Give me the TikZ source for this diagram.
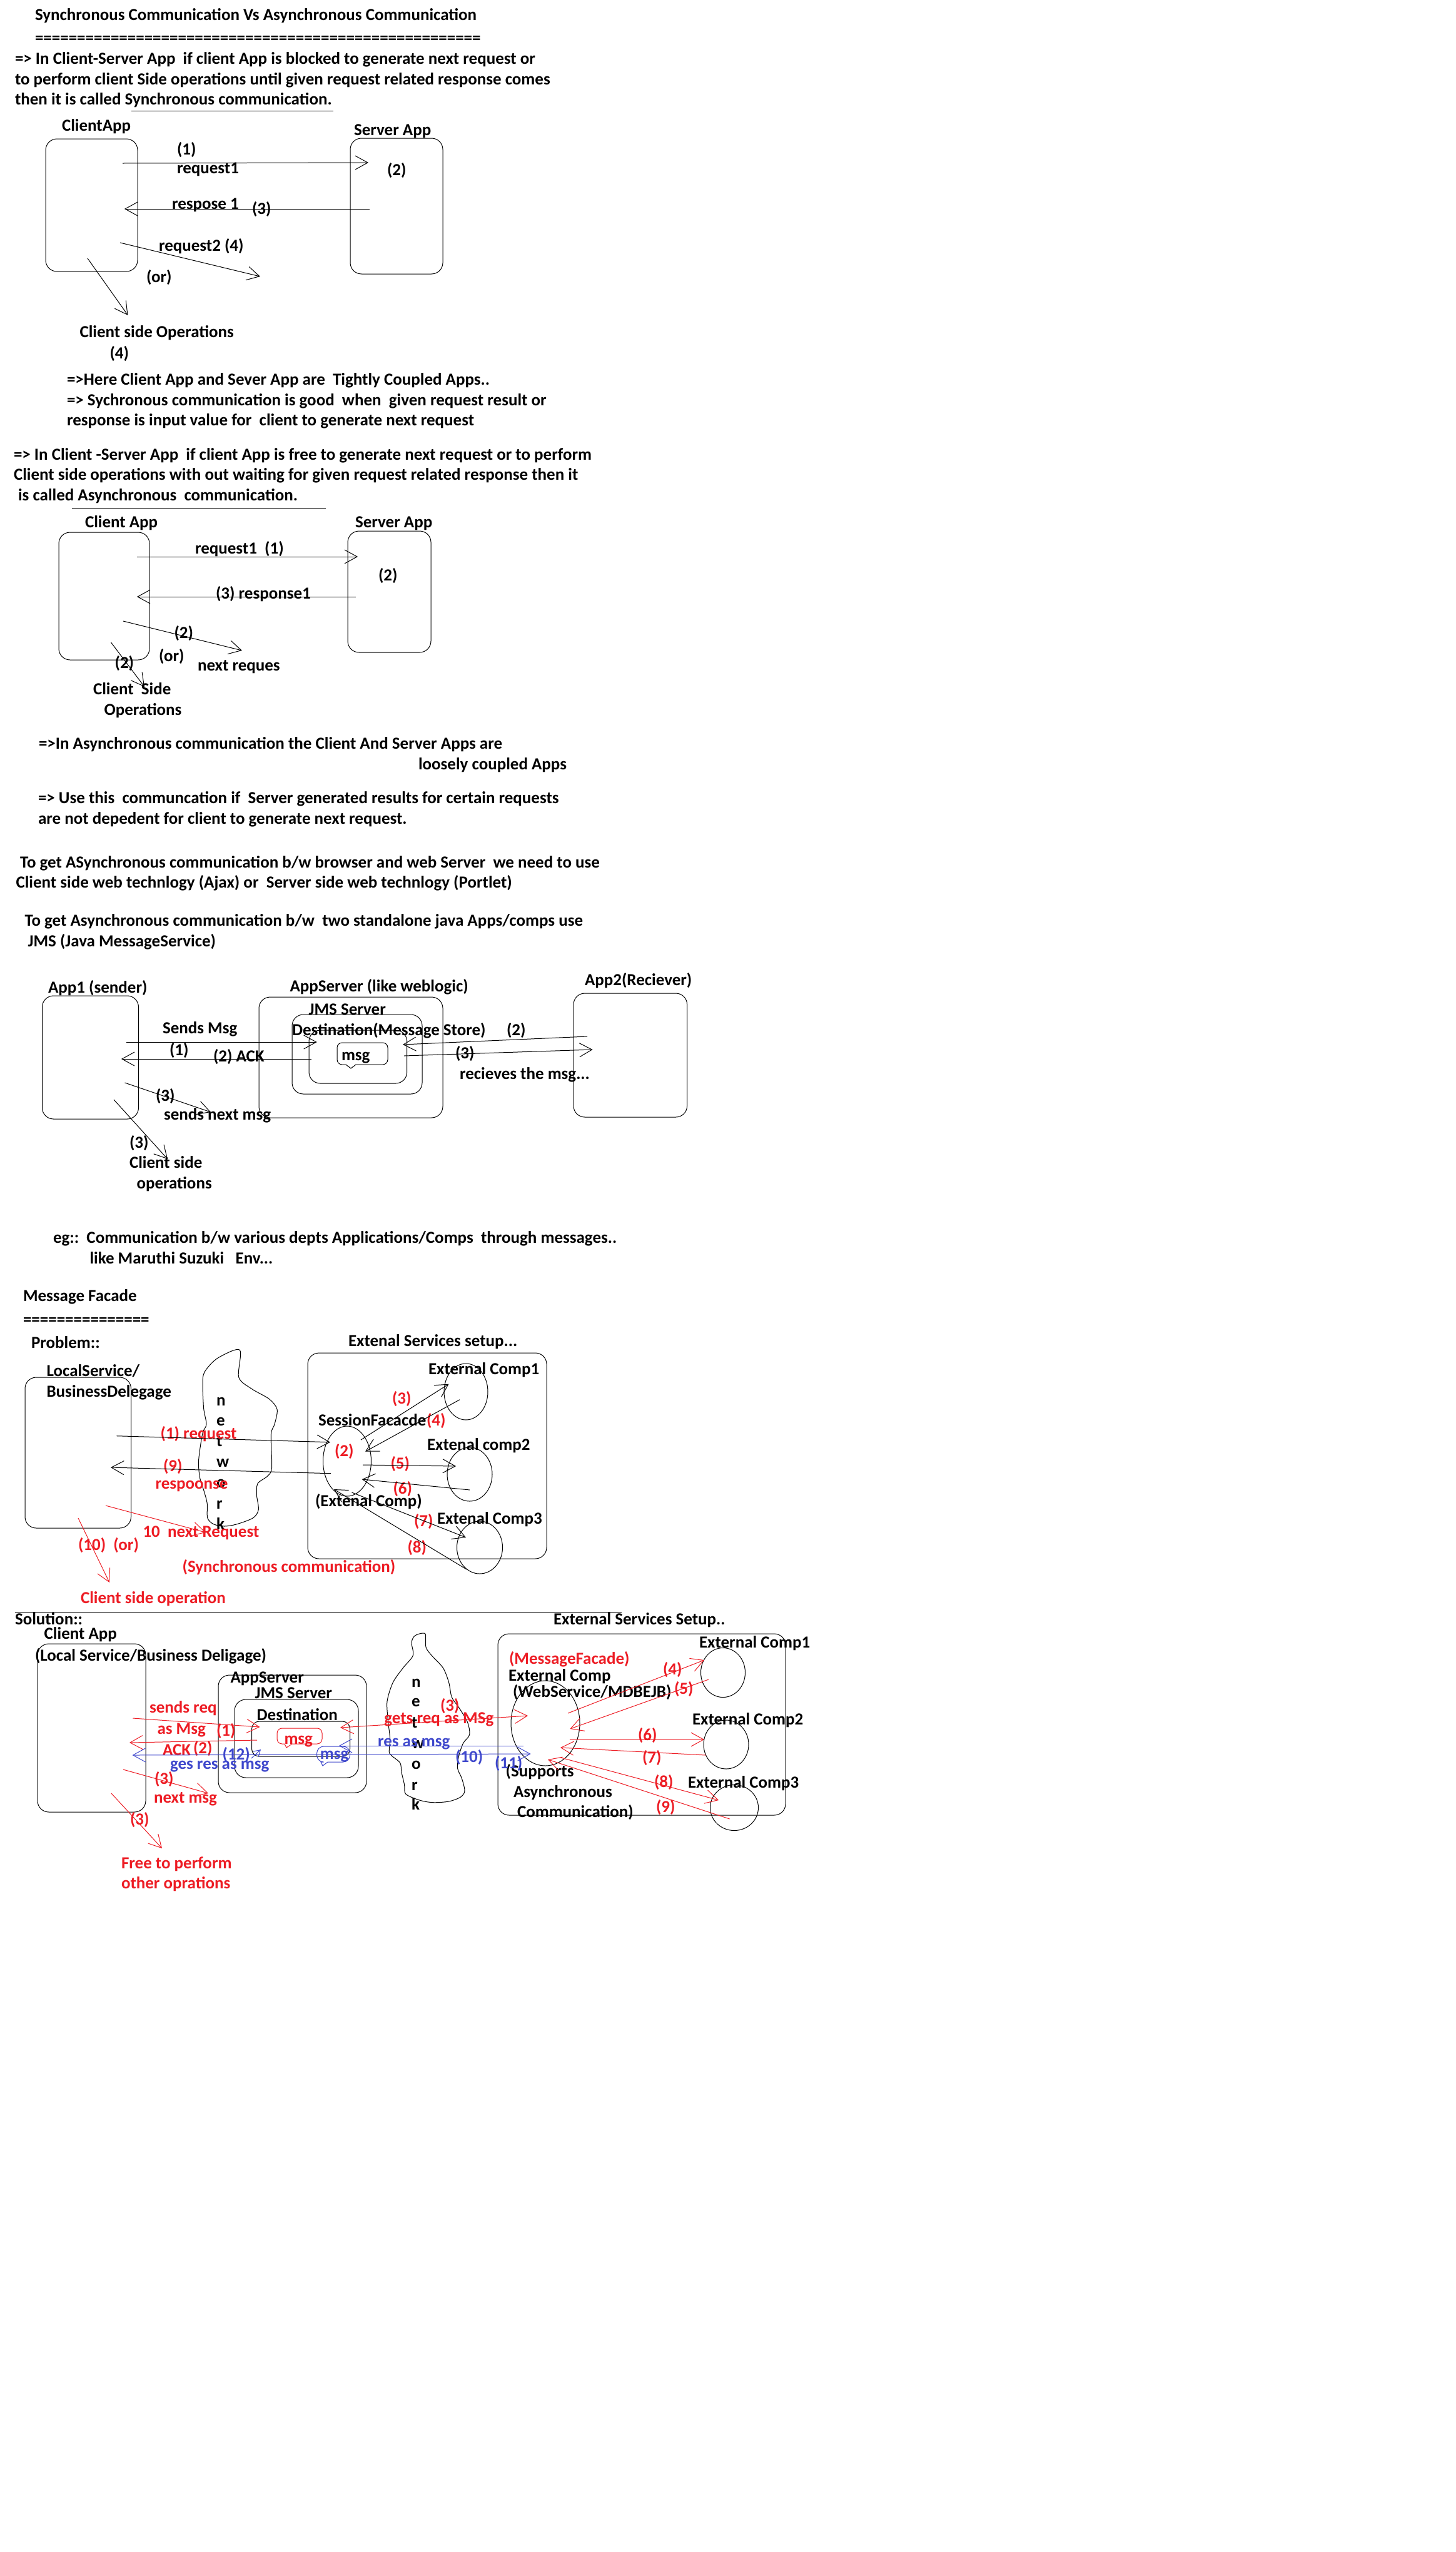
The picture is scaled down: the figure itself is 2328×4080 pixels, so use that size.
\documentclass[tikz,border=0pt]{standalone}
\usepackage{fontspec}
\setmainfont{Carlito}
\usetikzlibrary{arrows.meta,shapes.geometric,fit}
\definecolor{pred}{RGB}{237,28,36}
\definecolor{pblue}{RGB}{63,72,204}
\begin{document}
\begin{tikzpicture}[x=1pt,y=-1pt,
  txt/.style={anchor=base west, inner sep=0pt, outer sep=0pt, font=\fontsize{27}{33}\selectfont\bfseries},
  rtxt/.style={txt, text=pred},
  btxt/.style={txt, text=pblue},
  box/.style={draw, rounded corners=18pt, inner sep=0pt, line width=1pt},
  comp/.style={draw, ellipse, inner sep=0pt, line width=1pt},
  arr/.style={line width=1pt, -{Straight Barb[length=20pt,width=22pt,line width=1pt]}},
  darr/.style={line width=1pt, {Straight Barb[length=20pt,width=22pt,line width=1pt]}-{Straight Barb[length=20pt,width=22pt,line width=1pt]}},
  rarr/.style={arr, draw=pred},
  barr/.style={arr, draw=pblue},
  ln/.style={line width=1pt}
]
\fill[white] (0,0) rectangle (2328,4080);
\useasboundingbox (0,0) rectangle (2328,4080);

% ---------------- Section 1 ----------------
\node[txt] (title) at (56,32) {Synchronous Communication Vs Asynchronous Communication};
\node[txt] (eq1) at (56,69) {=====================================================};
\node[txt] (s1a) at (24,102) {=> In Client-Server App\ \ if client App is blocked to generate next request or};
\node[txt] (s1b) at (24,135) {to perform client Side operations until given request related response comes};
\node[txt] (s1c) at (24,167) {then it is called Synchronous communication.};
\coordinate (u1a) at (210,177); \coordinate (u1b) at (533,177);
\draw[ln] (u1a) -- (u1b);

% ---------------- Section 2 (sync diagram) ----------------
\node[txt] (ca1lbl) at (99,209) {ClientApp};
\node[box, fit={(73,222)(220,434)}] (ca1) {};
\node[txt] (sa1lbl) at (566,216) {Server App};
\node[box, fit={(560,221)(708,438)}] (sa1) {};
\node[txt] (d1n1) at (283,247) {(1)};
\node[txt] (d1req) at (283,277) {request1};
\node[txt] (d1n2) at (619,280) {(2)};
\node[txt] (d1res) at (275,334) {respose 1};
\node[txt] (d1n3) at (403,342) {(3)};
\node[txt] (d1req2) at (254,401) {request2 (4)};
\node[txt] (d1or) at (234,451) {(or)};
\node[txt] (d1cso) at (127.5,539) {Client side Operations};
\node[txt] (d1n4) at (175.5,573) {(4)};
\coordinate (a1s) at (196,261); \coordinate (a1e) at (589,260);
\coordinate (a2s) at (591,334); \coordinate (a2e) at (199,334);
\coordinate (a3s) at (192,388); \coordinate (a3e) at (416,442);
\coordinate (a4s) at (140,413); \coordinate (a4e) at (204.5,504);
\draw[arr] (a1s) -- (a1e);
\draw[arr] (a2s) -- (a2e);
\draw[arr] (a3s) -- (a3e);
\draw[arr] (a4s) -- (a4e);

% ---------------- Section 3 ----------------
\node[txt] (s3a) at (107,615) {=>Here Client App and Sever App are\ \ Tightly Coupled Apps..};
\node[txt] (s3b) at (107,648) {=> Sychronous communication is good\ \ when\ \ given request result or};
\node[txt] (s3c) at (107,680) {response is input value for\ \ client to generate next request};
\node[txt] (s3d) at (22,735) {=> In Client -Server App\ \ if client App is free to generate next request or to perform};
\node[txt] (s3e) at (22,767) {Client side operations with out waiting for given request related response then it};
\node[txt] (s3f) at (29,800) {is called Asynchronous\ \ communication.};
\coordinate (u2a) at (115,812); \coordinate (u2b) at (521,812);
\draw[ln] (u2a) -- (u2b);

% ---------------- Section 4 (async diagram) ----------------
\node[txt] (ca2lbl) at (136,843) {Client App};
\node[box, fit={(94,851)(239,1055)}] (ca2) {};
\node[txt] (sa2lbl) at (568,843) {Server App};
\node[box, fit={(556,849)(689,1043)}] (sa2) {};
\node[txt] (d2req) at (312,885) {request1\ \ (1)};
\node[txt] (d2n2) at (605,928) {(2)};
\node[txt] (d2res) at (345,957) {(3) response1};
\node[txt] (d2n2b) at (278.5,1020) {(2)};
\node[txt] (d2or) at (254,1057) {(or)};
\node[txt] (d2next) at (316,1072) {next reques};
\node[txt] (d2n2c) at (183.6,1068) {(2)};
\node[txt] (d2cs) at (149,1110) {Client\ \ Side};
\node[txt] (d2op) at (166.5,1143) {Operations};
\coordinate (b1s) at (218.5,890); \coordinate (b1e) at (572,890);
\coordinate (b2s) at (569,954); \coordinate (b2e) at (219,954);
\coordinate (b3s) at (197,993); \coordinate (b3e) at (387,1040);
\coordinate (b4s) at (177.5,1027); \coordinate (b4e) at (231,1098);
\draw[arr] (b1s) -- (b1e);
\draw[arr] (b2s) -- (b2e);
\draw[arr] (b3s) -- (b3e);
\draw[arr] (b4s) -- (b4e);

% ---------------- Section 5 ----------------
\node[txt] (s5a) at (62,1197) {=>In Asynchronous communication the Client And Server Apps are};
\node[txt] (s5b) at (669,1230) {loosely coupled Apps};
\node[txt] (s5c) at (61,1284) {=> Use this\ \ communcation if\ \ Server generated results for certain requests};
\node[txt] (s5d) at (61,1317) {are not depedent for client to generate next request.};
\node[txt] (s5e) at (32,1387) {To get ASynchronous communication b/w browser and web Server\ \ we need to use};
\node[txt] (s5f) at (25.5,1419) {Client side web technlogy (Ajax) or\ \ Server side web technlogy (Portlet)};
\node[txt] (s5g) at (39.5,1480) {To get Asynchronous communication b/w\ \ two standalone java Apps/comps use};
\node[txt] (s5h) at (44.6,1513) {JMS (Java MessageService)};

% ---------------- Section 6 (JMS) ----------------
\node[txt] (app1lbl) at (77,1587) {App1 (sender)};
\node[box, fit={(67.5,1592)(221.5,1789)}] (app1) {};
\node[txt] (aslbl) at (463.5,1585) {AppServer (like weblogic)};
\node[box, fit={(414,1594)(708,1787)}] (as1) {};
\node[txt] (jmslbl) at (493.6,1622) {JMS Server};
\node[box, fit={(467,1622)(675,1749)}] (jms1) {};
\node[box, fit={(494,1647)(650.7,1732)}] (dest1) {};
\node[txt] (destlbl) at (467,1655) {Destination(Message Store)};
\draw[ln] (569,1702) [rounded corners=8pt] -- (620,1702) -- (620,1667) -- (539,1667) -- (539,1702) [sharp corners] -- (553,1702) -- (561,1708) -- cycle;
\node[txt] (msg1) at (546,1695) {msg};
\node[txt] (j1send) at (260,1652) {Sends Msg};
\node[txt] (j1n1) at (271,1687) {(1)};
\node[txt] (j1ack) at (341,1697) {(2) ACK};
\node[txt] (j1n2) at (810,1655) {(2)};
\node[txt] (j1n3) at (728,1692) {(3)};
\node[txt] (j1rec) at (735,1725) {recieves the msg...};
\node[txt] (app2lbl) at (935,1575) {App2(Reciever)};
\node[box, fit={(917,1588)(1098.6,1786)}] (app2) {};
\node[txt] (j1n3b) at (249,1760) {(3)};
\node[txt] (j1next) at (262,1790) {sends next msg};
\node[txt] (j1n3c) at (207,1835) {(3)};
\node[txt] (j1cs) at (207,1867) {Client side};
\node[txt] (j1op) at (218.5,1900) {operations};
\coordinate (c1s) at (201.7,1666); \coordinate (c1e) at (506.7,1666);
\coordinate (c2s) at (498,1693); \coordinate (c2e) at (194,1693);
\coordinate (c3s) at (939,1657); \coordinate (c3e) at (644,1670);
\coordinate (c4s) at (646,1688); \coordinate (c4e) at (947.6,1678);
\coordinate (c5s) at (199.5,1731); \coordinate (c5e) at (337,1778);
\coordinate (c6s) at (182,1758); \coordinate (c6e) at (268,1853);
\draw[arr] (c1s) -- (c1e);
\draw[arr] (c2s) -- (c2e);
\draw[arr] (c3s) -- (c3e);
\draw[arr] (c4s) -- (c4e);
\draw[arr] (c5s) -- (c5e);
\draw[arr] (c6s) -- (c6e);

% ---------------- Section 7 ----------------
\node[txt] (s7a) at (85,1987) {eg::\ \ Communication b/w various depts Applications/Comps\ \ through messages..};
\node[txt] (s7b) at (143.5,2020) {like Maruthi Suzuki\ \ \ Env...};
\node[txt] (mf) at (37,2080) {Message Facade};
\node[txt] (eq2) at (37,2118) {===============};
\node[txt] (prob) at (50,2155) {Problem::};
\node[txt] (ext1lbl) at (557,2152) {Extenal Services setup...};

% ---------------- Section 8 (problem) ----------------
\node[txt] (ls1) at (74.6,2200) {LocalService/};
\node[txt] (ls2) at (74.6,2233) {BusinessDelegage};
\node[box, fit={(40,2202)(209.5,2443)}] (lsbox) {};
\draw[ln] plot[smooth cycle, tension=0.5] coordinates {(383.4,2158.3) (381.7,2201.7) (401.8,2220) (430.5,2236.7) (443.1,2253.3) (439.1,2276.7) (433.4,2293.3) (434.5,2346.7) (427.6,2360) (412.1,2371.7) (410.4,2390) (413.3,2413.3) (404.7,2426.7) (378.8,2436.7) (358.8,2440) (341.5,2436.7) (331.8,2426.7) (331.2,2403.3) (326,2383.3) (319.7,2363.3) (317.4,2340) (319.7,2316.7) (324.3,2290) (330,2276.7) (325.5,2250) (324.3,2203.3) (331.8,2186.7) (350.1,2170)};
\node[txt] (nw1n) at (346,2247) {n};
\node[txt] (nw1e) at (346,2279) {e};
\node[txt] (nw1t) at (346,2312) {t};
\node[txt] (nw1w) at (346,2345) {w};
\node[txt] (nw1o) at (346,2378) {o};
\node[txt] (nw1r) at (346,2412) {r};
\node[txt] (nw1k) at (346,2445) {k};
\node[box, fit={(492,2163)(874,2492)}] (ext1) {};
\node[txt] (pc1lbl) at (685,2197) {External Comp1};
\node[comp, minimum width=70pt, minimum height=90pt] (pc1) at (745,2225) {};
\node[txt] (sflbl) at (509,2279) {SessionFacacde};
\node[comp, minimum width=77pt, minimum height=112pt] (sf) at (555,2336) {};
\node[txt] (pec) at (504,2408) {(Extenal Comp)};
\node[txt] (pc2lbl) at (683,2318) {Extenal comp2};
\node[comp, minimum width=72pt, minimum height=86pt] (pc2) at (751,2357) {};
\node[txt] (pc3lbl) at (699,2436) {Extenal Comp3};
\node[comp, minimum width=73pt, minimum height=84pt] (pc3) at (767,2474) {};
\node[rtxt] (p3) at (627,2244) {(3)};
\node[rtxt] (p4) at (682,2279) {(4)};
\node[rtxt] (p2) at (535,2328) {(2)};
\node[rtxt] (p5) at (624.5,2348) {(5)};
\node[rtxt] (p6) at (628.5,2388) {(6)};
\node[rtxt] (p7) at (662,2440) {(7)};
\node[rtxt] (p8) at (651.5,2482) {(8)};
\node[rtxt] (p1) at (256.6,2300) {(1) request};
\node[rtxt] (p9) at (261,2352) {(9)};
\node[rtxt] (presp) at (248.5,2380) {respoonse};
\node[rtxt] (p10) at (228.5,2457) {10\ \ next Request};
\node[rtxt] (p10or) at (125,2478) {(10)\ \ (or)};
\node[rtxt] (psync) at (291.6,2513) {(Synchronous communication)};
\node[rtxt] (pcso) at (129,2563) {Client side operation};
\coordinate (e1s) at (186.5,2295.7); \coordinate (e1e) at (528,2305.7);
\coordinate (e2s) at (529,2355.7); \coordinate (e2e) at (177,2346);
\coordinate (e3s) at (577,2302); \coordinate (e3e) at (717.5,2212.7);
\coordinate (e4s) at (735,2237.7); \coordinate (e4e) at (584,2320.7);
\coordinate (e5s) at (580,2342); \coordinate (e5e) at (729,2344);
\coordinate (e6s) at (751,2382); \coordinate (e6e) at (578.6,2365);
\coordinate (e7s) at (562.5,2386); \coordinate (e7e) at (745,2458);
\coordinate (e8s) at (746,2509); \coordinate (e8e) at (534,2381);
\coordinate (e9s) at (169,2407); \coordinate (e9e) at (329,2450);
\coordinate (e10s) at (125,2427); \coordinate (e10e) at (175,2530);
\draw[arr] (e1s) -- (e1e);
\draw[arr] (e2s) -- (e2e);
\draw[arr] (e3s) -- (e3e);
\draw[arr] (e4s) -- (e4e);
\draw[arr] (e5s) -- (e5e);
\draw[arr] (e6s) -- (e6e);
\draw[arr] (e7s) -- (e7e);
\draw[arr] (e8s) -- (e8e);
\draw[rarr] (e9s) -- (e9e);
\draw[rarr] (e10s) -- (e10e);
\coordinate (sepa) at (24,2577); \coordinate (sepb) at (994,2577);
\draw[ln] (sepa) -- (sepb);
\node[txt] (sol) at (24,2597) {Solution::};

% ---------------- Section 9 (solution) ----------------
\node[txt] (ca3lbl) at (70.7,2620) {Client App};
\node[box, fit={(60,2628)(233,2897)}] (ca3) {};
\node[txt] (ca3sub) at (56,2655) {(Local Service/Business Deligage)};
\node[box, fit={(349,2678)(586,2866)}] (as3) {};
\node[txt] (as3lbl) at (368.6,2690) {AppServer};
\node[txt] (jms3lbl) at (407.7,2715) {JMS Server};
\node[box, fit={(375,2717)(573,2842)}] (jms3) {};
\node[txt] (dest3lbl) at (410.7,2750) {Destination};
\node[box, rounded corners=12pt, fit={(402.5,2752)(559.5,2808)}] (dest3) {};
\draw[ln, pred] (467,2788) [rounded corners=8pt] -- (515,2788) -- (515,2763) -- (443,2763) -- (443,2788) [sharp corners] -- (455,2788) -- (458,2794) -- cycle;
\node[rtxt] (msg3r) at (454.5,2788) {msg};
\draw[ln, pblue] (524,2817) [rounded corners=11pt] -- (559.5,2817) -- (559.5,2792) -- (506.6,2792) -- (506.6,2817) [sharp corners] -- (513,2817) -- (516,2823) -- cycle;
\node[btxt] (msg3b) at (511.8,2812) {msg};
\node[rtxt] (q1) at (239,2738) {sends req};
\node[rtxt] (q2) at (251.5,2772) {as Msg};
\node[rtxt] (q3) at (346,2775) {(1)};
\node[rtxt] (q4) at (260,2806) {ACK};
\node[rtxt] (q5) at (309,2803) {(2)};
\node[btxt] (q6) at (355.6,2813) {(12)};
\node[btxt] (q7) at (272,2828) {ges res as msg};
\node[rtxt] (q8) at (247,2852) {(3)};
\node[rtxt] (q9) at (246,2882) {next msg};
\node[rtxt] (q10) at (208,2917) {(3)};
\node[rtxt] (q11) at (194,2987) {Free to perform};
\node[rtxt] (q12) at (194,3019) {other oprations};
\draw[ln] plot[smooth cycle, tension=0.5] coordinates {(680.1,2612.3) (681,2633.3) (690.2,2646.7) (708.5,2666.7) (717.7,2690) (722.3,2713.3) (733.8,2730) (747.5,2753.3) (750.7,2773.3) (740.7,2786.7) (733.8,2806.7) (731.5,2826.7) (738.4,2843.3) (743,2863.3) (736,2873.3) (717.7,2880) (692.5,2881.7) (671.8,2878.3) (648.9,2868.3) (646.6,2853.3) (642,2833.3) (639.7,2818.3) (625.9,2806.7) (622.2,2800) (623.6,2780) (620.4,2750) (619,2720) (628.2,2690) (644.3,2666.7) (660.3,2646.7) (658,2626.7) (661.7,2616.7) (669.5,2612.3)};
\node[txt] (nw2n) at (658,2697) {n};
\node[txt] (nw2e) at (658,2728) {e};
\node[txt] (nw2t) at (658,2762) {t};
\node[txt] (nw2w) at (658,2795) {w};
\node[txt] (nw2o) at (658,2828) {o};
\node[txt] (nw2r) at (658,2862) {r};
\node[txt] (nw2k) at (658,2893) {k};
\node[txt] (ext2lbl) at (885,2597) {External Services Setup..};
\node[box, fit={(796,2612)(1256,2902)}] (ext2) {};
\node[txt] (sc1lbl) at (1118,2634) {External Comp1};
\node[comp, minimum width=71pt, minimum height=79pt] (sc1) at (1156,2674) {};
\node[rtxt] (mflbl) at (814,2660) {(MessageFacade)};
\node[txt] (eclbl) at (813,2687) {External Comp};
\node[txt] (wslbl) at (820,2713) {(WebService/MDBEJB)};
\node[comp, minimum width=110pt, minimum height=136pt] (mfc) at (872,2755) {};
\node[txt] (sc2lbl) at (1107,2757) {External Comp2};
\node[comp, minimum width=72pt, minimum height=78pt] (sc2) at (1161,2789) {};
\node[txt] (sc3lbl) at (1100,2858) {External Comp3};
\node[comp, minimum width=77pt, minimum height=73pt] (sc3) at (1174,2890) {};
\node[txt] (supp1) at (808.6,2840) {(Supports};
\node[txt] (supp2) at (821,2873) {Asynchronous};
\node[txt] (supp3) at (827,2905) {Communication)};
\node[rtxt] (r4) at (1060,2677) {(4)};
\node[rtxt] (r5) at (1078,2708) {(5)};
\node[rtxt] (r6) at (1020,2782) {(6)};
\node[rtxt] (r7) at (1027,2818) {(7)};
\node[rtxt] (r8) at (1046,2857) {(8)};
\node[rtxt] (r9) at (1049,2897) {(9)};
\node[rtxt] (r3) at (704,2735) {(3)};
\node[rtxt] (rgets) at (614.4,2755) {gets req as MSg};
\node[btxt] (bres) at (604,2792) {res as msg};
\node[btxt] (b10) at (728,2817) {(10)};
\node[btxt] (b11) at (791,2827) {(11)};
\coordinate (f1s) at (212.5,2747); \coordinate (f1e) at (415.5,2761);
\coordinate (f2s) at (411,2782); \coordinate (f2e) at (207,2786);
\coordinate (f3s) at (197,2829); \coordinate (f3e) at (333,2867);
\coordinate (f4s) at (178,2867); \coordinate (f4e) at (259,2955);
\coordinate (f5s) at (544,2762); \coordinate (f5e) at (844,2743);
\coordinate (f6s) at (837,2791); \coordinate (f6e) at (542,2791);
\coordinate (f7s) at (211.6,2806); \coordinate (f7e) at (848.6,2804);
\coordinate (f8s) at (402,2811); \coordinate (f8e) at (417,2797);
\coordinate (g1s) at (908,2739); \coordinate (g1e) at (1126,2654);
\coordinate (g2s) at (1133,2685); \coordinate (g2e) at (911.4,2764);
\coordinate (g3s) at (910.5,2781); \coordinate (g3e) at (1126,2781);
\coordinate (g4s) at (1128.5,2806); \coordinate (g4e) at (896,2794);
\coordinate (g5s) at (896.7,2810); \coordinate (g5e) at (1149,2878);
\coordinate (g6s) at (1166.6,2908); \coordinate (g6e) at (876,2813);
\draw[rarr] (f1s) -- (f1e);
\draw[rarr] (f2s) -- (f2e);
\draw[rarr] (f3s) -- (f3e);
\draw[rarr] (f4s) -- (f4e);
\draw[darr, draw=pred] (f5s) -- (f5e);
\draw[barr] (f6s) -- (f6e);
\draw[darr, draw=pblue] (f7s) -- (f7e);
\draw[line width=1pt, draw=pblue, -{Straight Barb[length=10pt,width=12pt,line width=1pt]}] (f8s) -- (f8e);
\draw[rarr] (g1s) -- (g1e);
\draw[rarr] (g2s) -- (g2e);
\draw[rarr] (g3s) -- (g3e);
\draw[rarr] (g4s) -- (g4e);
\draw[rarr] (g5s) -- (g5e);
\draw[rarr] (g6s) -- (g6e);
\end{tikzpicture}
\end{document}
